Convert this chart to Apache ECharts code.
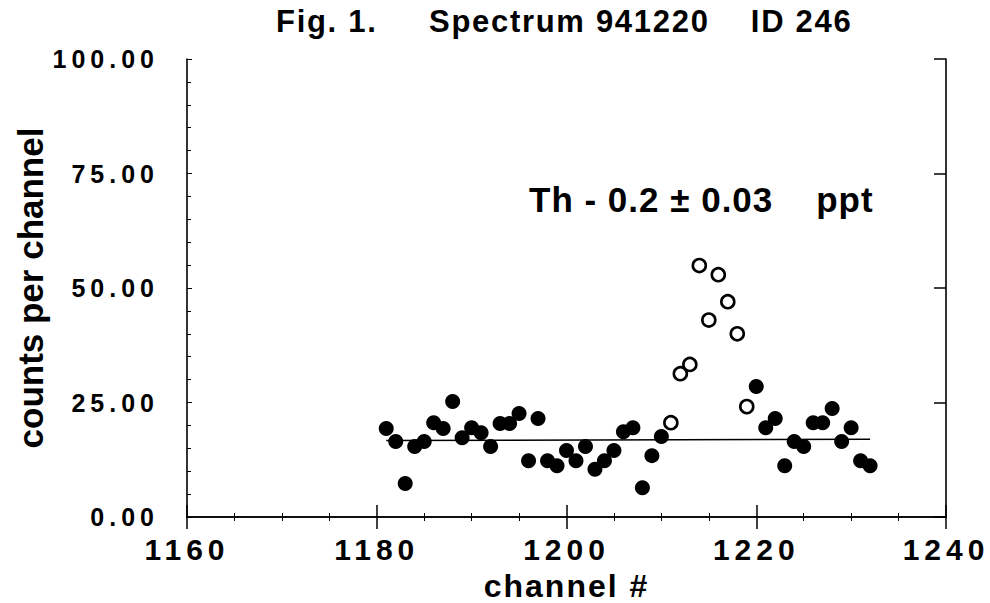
<!DOCTYPE html>
<html>
<head>
<meta charset="utf-8">
<script src="https://cdn.jsdelivr.net/npm/echarts@6/dist/echarts.min.js"></script>
<style>
  html, body { margin: 0; padding: 0; background: #fff; }
  #chart { width: 990px; height: 603px; }
</style>
</head>
<body>
<div id="chart"></div>
<script>
// ---- data ----
const titleText = 'Fig. 1.\u00a0\u00a0\u00a0\u00a0\u00a0Spectrum 941220\u00a0\u00a0\u00a0\u00a0ID 246';
const xAxisName = 'channel #';
const yAxisName = 'counts per channel';
const annotation = 'Th - 0.2 \u00b1 0.03\u00a0\u00a0\u00a0\u00a0ppt';

const xMin = 1160, xMax = 1240, xStep = 20;
const yMin = 0, yMax = 100, yStep = 25;

// filled (background) channels
const filledChannels = [1181, 1182, 1183, 1184, 1185, 1186, 1187, 1188, 1189, 1190,
                        1191, 1192, 1193, 1194, 1195, 1196, 1197, 1198, 1199, 1200,
                        1201, 1202, 1203, 1204, 1205, 1206, 1207, 1208, 1209, 1210,
                        1220, 1221, 1222, 1223, 1224, 1225, 1226, 1227, 1228, 1229,
                        1230, 1231, 1232];
const filledCounts   = [19.3, 16.5, 7.3, 15.4, 16.5, 20.6, 19.3, 25.2, 17.3, 19.5,
                        18.4, 15.4, 20.4, 20.4, 22.6, 12.3, 21.5, 12.3, 11.2, 14.5,
                        12.3, 15.4, 10.4, 12.3, 14.5, 18.6, 19.5, 6.4, 13.4, 17.6,
                        28.5, 19.5, 21.5, 11.2, 16.5, 15.4, 20.6, 20.6, 23.7, 16.5,
                        19.5, 12.3, 11.2];

// open (peak) channels
const openChannels = [1211, 1212, 1213, 1214, 1215, 1216, 1217, 1218, 1219];
const openCounts   = [20.6, 31.3, 33.3, 54.9, 43.0, 52.9, 47.0, 40.0, 24.1];

// background fit line
const fitChannels = [1181, 1232];
const fitCounts   = [16.7, 17.0];

const zip = (xs, ys) => xs.map((x, i) => [x, ys[i]]);

const FONT = '"Liberation Sans", Arial, Helvetica, sans-serif';

const chart = echarts.init(document.getElementById('chart'), null, { renderer: 'svg' });

const baseX = { type: 'value', min: xMin, max: xMax, interval: xStep, splitLine: { show: false } };
const baseY = { type: 'value', min: yMin, max: yMax, interval: yStep, splitLine: { show: false } };
const line = { show: true, lineStyle: { color: '#000', width: 1.6 } };

chart.setOption({
  animation: false,
  backgroundColor: '#fff',
  title: {
    text: titleText,
    left: 271,
    top: 1,
    textStyle: { fontFamily: FONT, fontWeight: 'bold', fontSize: 31, color: '#000' }
  },
  grid: { left: 187, right: 44, top: 59, bottom: 86, outerBoundsMode: 'none', containLabel: false },
  xAxis: [
    Object.assign({}, baseX, {
      position: 'bottom',
      name: xAxisName, nameLocation: 'middle', nameGap: 45,
      nameTextStyle: { fontFamily: FONT, fontWeight: 'bold', fontSize: 32, lineHeight: 34, color: '#000' },
      axisLine: line,
      axisTick: { show: true, inside: false, length: 12, lineStyle: { color: '#000', width: 1.5 } },
      axisLabel: {
        margin: 17, fontFamily: FONT, fontWeight: 'bold', fontSize: 30, color: '#000',
        formatter: v => String(v)
      }
    }),
    Object.assign({}, baseX, {
      position: 'top',
      axisLine: line,
      axisTick: { show: true, inside: false, length: 12, lineStyle: { color: '#000', width: 1.5 } },
      minorTick: { show: true, splitNumber: 4, length: 4, lineStyle: { color: '#000' } },
      axisLabel: { show: false }
    }),
    Object.assign({}, baseX, {
      position: 'bottom',
      axisLine: { show: false },
      axisTick: { show: false },
      minorTick: { show: true, splitNumber: 4, length: 4, lineStyle: { color: '#000' } },
      axisLabel: { show: false }
    })
  ],
  yAxis: [
    Object.assign({}, baseY, {
      position: 'left',
      name: yAxisName, nameLocation: 'middle', nameGap: 139, nameRotate: 90,
      nameTextStyle: { fontFamily: FONT, fontWeight: 'bold', fontSize: 35, color: '#000' },
      axisLine: line,
      axisTick: { show: true, inside: true, length: 5, lineStyle: { color: '#000' } },
      minorTick: { show: true, splitNumber: 5, length: 4, lineStyle: { color: '#000' } },
      axisLabel: {
        margin: 28, fontFamily: FONT, fontWeight: 'bold', fontSize: 25, color: '#000',
        formatter: v => v.toFixed(2)
      }
    }),
    Object.assign({}, baseY, {
      position: 'right',
      axisLine: line,
      axisTick: { show: true, inside: true, length: 12, lineStyle: { color: '#000', width: 1.5 } },
      axisLabel: { show: false }
    })
  ],
  graphic: [{
    type: 'text',
    left: 529, top: 182,
    style: { text: annotation, fontFamily: FONT, fontWeight: 'bold', fontSize: 35, fill: '#000' }
  }],
  series: [
    {
      type: 'line', data: zip(fitChannels, fitCounts), symbol: 'none',
      lineStyle: { color: '#000', width: 1.5 }, z: 1
    },
    {
      type: 'scatter', data: zip(filledChannels, filledCounts),
      symbol: 'circle', symbolSize: 15, itemStyle: { color: '#000', opacity: 1 }, z: 3
    },
    {
      type: 'scatter', data: zip(openChannels, openCounts),
      symbol: 'circle', symbolSize: 13,
      itemStyle: { color: '#fff', borderColor: '#000', borderWidth: 2.6, opacity: 1 }, z: 3
    }
  ]
});

// tracking (letter spacing) as in the original print
function track() {
  const texts = document.querySelectorAll('#chart svg text');
  texts.forEach(t => {
    const s = t.textContent.trim();
    if (/^\d+\.\d+$/.test(s)) t.style.letterSpacing = '5px';
    else if (/^\d+$/.test(s)) t.style.letterSpacing = '5px';
    else if (s === xAxisName) t.style.letterSpacing = '2px';
    else if (s.indexOf('Fig.') === 0) t.style.letterSpacing = '1.7px';
    else if (s.indexOf('Th') === 0) t.style.letterSpacing = '1px';
  });
}
track();
chart.on('finished', track);
</script>
</body>
</html>
